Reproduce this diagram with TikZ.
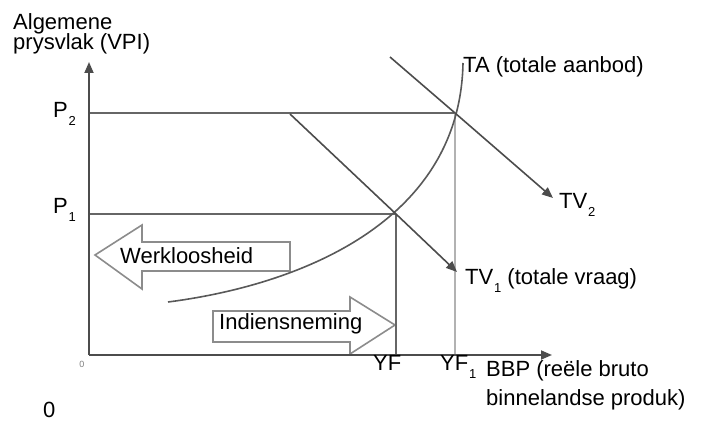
\documentclass[tikz,border=0pt]{standalone}
\usepackage{fontspec}
\setmainfont{Liberation Sans}
\usetikzlibrary{arrows.meta}
\newcommand{\lowsub}[1]{\kern0.8pt\raisebox{-8pt}{\fontsize{13}{13}\selectfont #1}}
\begin{document}
\begin{tikzpicture}[x=1pt,y=-1pt,
  axis/.style={draw=black!70,line width=1.8pt,-{Triangle[length=11pt,width=9pt]}},
  guide/.style={draw=black!60,line width=1.6pt},
  lightguide/.style={draw=black!30,line width=1.6pt},
  curve/.style={draw=black!65,line width=1.6pt},
  demand/.style={draw=black!70,line width=1.6pt,-{Triangle[length=11pt,width=9pt]}},
  hollow/.style={draw=black!45,line width=1.6pt,fill=white},
  lbl/.style={font=\fontsize{22}{22}\selectfont,inner sep=0pt,anchor=base west}]
\useasboundingbox (0,0) rectangle (706,422);
% coordinates
\coordinate (O) at (89,355);
\coordinate (ytop) at (89,62);
\coordinate (xend) at (552,355);
\coordinate (p2) at (89,113);
\coordinate (p1) at (89,214);
\coordinate (e1) at (396,214);
\coordinate (e2) at (455,113);
\coordinate (yf) at (396,355);
\coordinate (yf1) at (455,355);
\coordinate (tv2s) at (390,57);
\coordinate (tv2e) at (553,198);
\coordinate (tv1s) at (290,114);
\coordinate (tv1e) at (457,272);
\coordinate (tas) at (168,302);
\coordinate (tae) at (463,63);
% hollow arrows
\draw[hollow] (95,255) -- (142,225) -- (142,242) -- (290,242) -- (290,271) -- (142,271) -- (142,289) -- cycle;
\draw[hollow] (395,325) -- (350,297) -- (350,311) -- (213,311) -- (213,342) -- (350,342) -- (350,354) -- cycle;
% guide lines
\draw[guide] (p2) -- (e2);
\draw[guide] (p1) -- (e1);
\draw[guide] (e1) -- (yf);
\draw[lightguide] (e2) -- (yf1);
% TA curve
\draw[curve] (tas) .. controls (300,285) and (460,222) .. (tae);
% demand lines
\draw[demand] (tv2s) -- (e2) -- (tv2e);
\draw[demand] (tv1s) -- (e1) -- (tv1e);
% axes
\draw[axis] (O) -- (ytop);
\draw[axis] (O) -- (xend);
% labels
\node[lbl] (ylab1) at (13,30) {Algemene};
\node[lbl] (ylab2) at (13,50) {prysvlak (VPI)};
\node[lbl] (p2l) at (53,118) {P\lowsub{2}};
\node[lbl] (p1l) at (53,213) {P\lowsub{1}};
\node[lbl] (wl) at (120,263) {Werkloosheid};
\node[lbl] (ind) at (219,329) {Indiensneming};
\node[lbl] (ta) at (463,73) {TA (totale aanbod)};
\node[lbl] (tv2l) at (559,208) {TV\lowsub{2}};
\node[lbl] (tv1l) at (465,284) {TV\lowsub{1} (totale vraag)};
\node[lbl] (yfl) at (373,370) {YF};
\node[lbl] (yf1l) at (440,370) {YF\lowsub{1}};
\node[lbl] (bbp1) at (486,376) {BBP (reële bruto};
\node[lbl] (bbp2) at (486,405) {binnelandse produk)};
\node[lbl] (zero) at (43,417) {0};
\node[font=\fontsize{9}{10}\selectfont,text=black!50,inner sep=0pt] (zsmall) at (82,364) {0};
\end{tikzpicture}
\end{document}
